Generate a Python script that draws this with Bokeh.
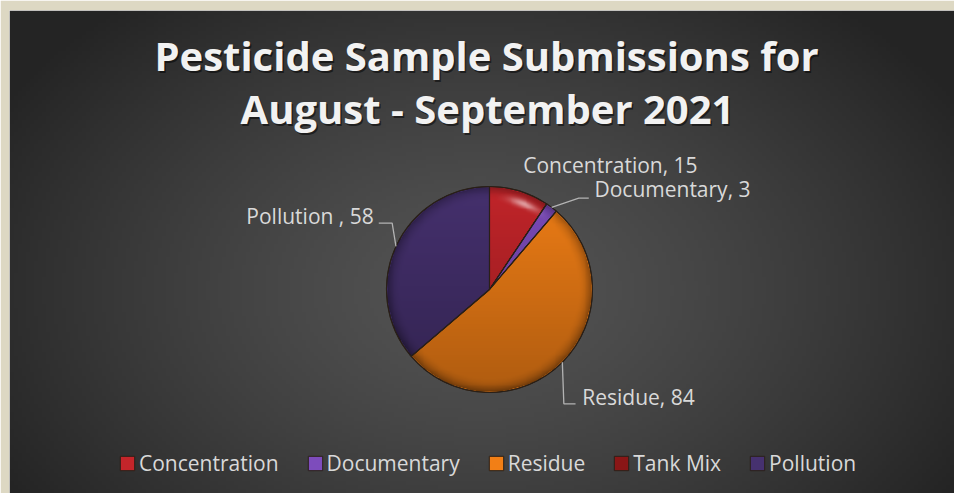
import numpy as np
from bokeh.plotting import figure
from bokeh.models import ColumnDataSource, Range1d, Legend, LegendItem
from bokeh.core.properties import value
from bokeh.embed import file_html
from bokeh.resources import INLINE

# ---------------- data ----------------
categories = ["Concentration", "Documentary", "Residue", "Tank Mix", "Pollution "]
values = [15, 3, 84, 0, 58]
colors = ["#c4252a", "#7d4cbc", "#f27f16", "#8a1616", "#46316f"]
title_lines = ["Pesticide Sample Submissions for", "August - September 2021"]

# ---------------- layout ----------------
W, H = 954, 493
X0, X1 = 9, 954          # frame extent (reference px)
YT, YB = 10, 493


def Y(yref):
    return 493 - yref


CX, CY, R = 489, Y(289), 103
FONT = value("Open Sans")
LABEL_COLOR = "#d9d9d9"

# label anchor offsets from slice edge point (dx, dy in px, y down), align
label_layout = [(3.8, -26.0, "left"), (42.8, -18.5, "left"), (19.9, 35.0, "left"),
                None, (-22.2, -30.5, "right")]
leader_layout = [None, [(27.1, -9.2), (37.1, -9.2)], [(1.5, 41.5), (13.2, 41.5)],
                 None, [(-3.8, -23.2), (-17.2, -23.2)]]

p = figure(width=W, height=H, output_backend="svg", toolbar_location=None,
           x_range=Range1d(X0, X1), y_range=Range1d(Y(YB), Y(YT)),
           x_axis_location=None, y_axis_location=None,
           min_border_left=9, min_border_top=10, min_border_right=0, min_border_bottom=0,
           border_fill_color="#ddd8c3", outline_line_color=None)
p.grid.visible = False

# ---------------- background gradient ----------------
ny, nx = 120, 236
xs = np.linspace(X0, X1, nx)
ys_ref = np.linspace(YB, YT, ny)
xx, yy = np.meshgrid(xs, ys_ref)
d = np.sqrt(((xx - 480) / 560) ** 2 + ((yy - 290) / 380) ** 2)
c = 84 - 48 * np.clip(d, 0, 1) ** 1.3
bg = np.zeros((ny, nx, 4), dtype=np.uint8)
bg[..., 0] = c
bg[..., 1] = c
bg[..., 2] = c
bg[..., 3] = 255
p.image_rgba(image=[bg.view(np.uint32).reshape(ny, nx)], x=X0, y=Y(YB), dw=X1 - X0, dh=YB - YT)

# ---------------- pie ----------------
vals = np.array(values, dtype=float)
tot = vals.sum()
cum = np.concatenate([[0.0], np.cumsum(vals)])
start = np.pi / 2 - cum[:-1] / tot * 2 * np.pi
end = np.pi / 2 - cum[1:] / tot * 2 * np.pi
mid = (start + end) / 2

src_all = ColumnDataSource(dict(cat=categories, start=start, end=end, color=colors))
nz = vals > 0
src = ColumnDataSource(dict(cat=[c for c, k in zip(categories, nz) if k],
                            start=start[nz], end=end[nz],
                            color=[c for c, k in zip(colors, nz) if k]))
p.wedge(x=CX, y=CY, radius=R, start_angle="start", end_angle="end", direction="clock",
        fill_color="color", line_color="#2a2018", line_width=1, source=src)

# shading overlay (3D look)
N = 220
g = np.linspace(-1, 1, N)
uu, vv = np.meshgrid(g, g)  # row 0 = bottom
rr = np.sqrt(uu ** 2 + vv ** 2)
inside = rr <= 1.0
a = 0.02 + 0.26 * (1 - vv) / 2 + 0.30 * np.clip((rr - 0.86) / 0.14, 0, 1) ** 2
sh = np.zeros((N, N, 4), dtype=np.uint8)
sh[..., 3] = np.where(inside, np.clip(a, 0, 1) * 255, 0).astype(np.uint8)
p.image_rgba(image=[sh.view(np.uint32).reshape(N, N)], x=CX - R, y=CY - R, dw=2 * R, dh=2 * R)

# gloss highlight
th = np.arctan2(vv, uu)
gl = 0.55 * np.exp(-((rr - 0.9) / 0.035) ** 2) * np.exp(-((th - np.radians(68)) / np.radians(9)) ** 2)
gs = np.zeros((N, N, 4), dtype=np.uint8)
gs[..., 0:3] = 255
gs[..., 3] = np.where(inside, np.clip(gl, 0, 1) * 255, 0).astype(np.uint8)
p.image_rgba(image=[gs.view(np.uint32).reshape(N, N)], x=CX - R, y=CY - R, dw=2 * R, dh=2 * R)

# outlines on top
p.wedge(x=CX, y=CY, radius=R, start_angle="start", end_angle="end", direction="clock",
        fill_color=None, line_color="#2a2018", line_width=1.1, source=src)

# legend proxy renderer (zero radius, all categories)
lr = p.wedge(x=CX, y=CY, radius=0, start_angle="start", end_angle="start", direction="clock",
             fill_color="color", line_color="#2a2018", line_width=1, source=src_all)

# ---------------- data labels & leader lines ----------------
lx, ly, lt, la = [], [], [], []
ldx, ldy = [], []
for i, (cat, v) in enumerate(zip(categories, values)):
    if label_layout[i] is None:
        continue
    ex = CX + R * np.cos(mid[i])
    ey_ref = 493 - (CY + R * np.sin(mid[i]))
    dx, dy, al = label_layout[i]
    lx.append(ex + dx)
    ly.append(Y(ey_ref + dy))
    lt.append(f"{cat}, {v}")
    la.append(al)
    if leader_layout[i]:
        xs_l = [ex] + [ex + ox for ox, oy in leader_layout[i]]
        ys_l = [Y(ey_ref)] + [Y(ey_ref + oy) for ox, oy in leader_layout[i]]
        ldx.append(xs_l)
        ldy.append(ys_l)

p.multi_line(xs=ldx, ys=ldy, line_color="#b3b3b3", line_width=1.3)
lsrc = ColumnDataSource(dict(x=lx, y=ly, text=lt, align=la))
p.text(x="x", y="y", text="text", text_align="align", text_baseline="alphabetic",
       text_font=FONT, text_font_size="21px", text_color=LABEL_COLOR, source=lsrc)

# ---------------- title ----------------
tsrc = ColumnDataSource(dict(x=[486, 487], y=[Y(55), Y(107.5)], text=title_lines))
p.text(x="x", y="y", text="text", text_align="center", text_baseline="alphabetic",
       text_font=FONT, text_font_style="bold", text_font_size="40px",
       text_color="#000000", text_alpha=0.5, x_offset=1.5, y_offset=2, source=tsrc)
p.text(x="x", y="y", text="text", text_align="center", text_baseline="alphabetic",
       text_font=FONT, text_font_style="bold", text_font_size="40px",
       text_color="#f2f2f2", source=tsrc)

# ---------------- legend ----------------
items = [LegendItem(label=c, renderers=[lr], index=i) for i, c in enumerate(categories)]
legend = Legend(items=items, orientation="horizontal", location=(109, 16),
                label_text_font="Open Sans", label_text_font_size="21px",
                label_text_color=LABEL_COLOR, glyph_width=18, glyph_height=18,
                label_standoff=3, spacing=27, padding=0, margin=0, label_height=17,
                background_fill_alpha=0, border_line_alpha=0)
p.add_layout(legend)

open("out.html", "w").write(file_html(p, INLINE))
